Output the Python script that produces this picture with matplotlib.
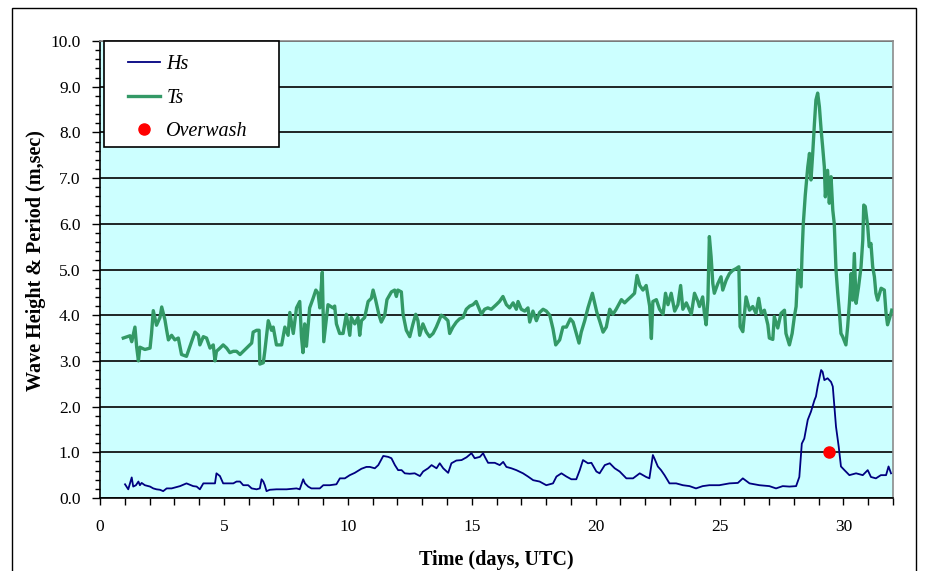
import matplotlib
matplotlib.use("Agg")
import matplotlib.pyplot as plt
from matplotlib.patches import Rectangle
from matplotlib.lines import Line2D
from matplotlib.ticker import MultipleLocator, FormatStrFormatter

plt.rcParams['font.family'] = ['Liberation Serif', 'DejaVu Serif']

# ---------------- data ----------------
# Ts : wave period (sec)
ts_time = [
    0.94, 1.21, 1.28, 1.41, 1.48, 1.55, 1.61, 1.81, 2.02, 2.08, 2.15, 2.28, 2.42, 2.49, 2.62,
    2.69, 2.76, 2.89, 3.02, 3.16, 3.29, 3.49, 3.63, 3.83, 3.97, 4.03, 4.17, 4.30, 4.44, 4.57,
    4.64, 4.70, 4.84, 4.97, 5.11, 5.24, 5.38, 5.51, 5.65, 5.78, 5.91, 6.12, 6.18, 6.32, 6.42,
    6.45, 6.59, 6.65, 6.79, 6.92, 6.99, 7.12, 7.33, 7.46, 7.59, 7.66, 7.80, 7.93, 8.06,
    8.13, 8.19, 8.26, 8.33, 8.46, 8.60, 8.71, 8.80, 8.87, 8.97, 9.03, 9.14, 9.20, 9.40, 9.47,
    9.54, 9.67, 9.81, 9.94, 10.08, 10.14, 10.28, 10.41, 10.48, 10.55, 10.68, 10.82, 10.95, 11.02,
    11.12, 11.26, 11.35, 11.49, 11.58, 11.76, 11.89, 11.96, 12.02, 12.16, 12.23, 12.36, 12.50,
    12.63, 12.74, 12.83, 12.90, 13.03, 13.17, 13.30, 13.44, 13.57, 13.77, 13.91, 14.04, 14.11,
    14.24, 14.38, 14.51, 14.65, 14.78, 14.92, 15.05, 15.18, 15.39, 15.52, 15.65, 15.79, 15.99, 16.12,
    16.26, 16.40, 16.53, 16.67, 16.80, 16.87, 17.00, 17.14, 17.27, 17.34, 17.47, 17.61, 17.74,
    17.88, 18.01, 18.15, 18.28, 18.39, 18.55, 18.68, 18.82, 18.98, 19.09, 19.22, 19.33, 19.42,
    19.56, 19.69, 19.87, 19.96, 20.05, 20.16, 20.30, 20.43, 20.57, 20.70, 20.83, 21.04, 21.17,
    21.30, 21.44, 21.57, 21.67, 21.78, 21.91, 22.04, 22.18, 22.25, 22.31, 22.45, 22.58, 22.72,
    22.82, 22.92, 23.05, 23.19, 23.32, 23.43, 23.52, 23.66, 23.86, 23.99, 24.13,
    24.19, 24.32, 24.39, 24.46, 24.53, 24.59, 24.66, 24.73, 24.79, 24.93, 25.06, 25.13, 25.27,
    25.40, 25.53, 25.67, 25.78, 25.83, 25.94, 26.07, 26.21, 26.34, 26.47, 26.58, 26.68, 26.81,
    26.95, 27.01, 27.15, 27.21, 27.35, 27.48, 27.62, 27.68, 27.82, 27.93, 28.02, 28.09, 28.16,
    28.29, 28.33, 28.38, 28.46, 28.56, 28.63, 28.69, 28.76, 28.83, 28.89, 28.96, 29.03, 29.10,
    29.16, 29.23, 29.27, 29.36, 29.43, 29.50, 29.57, 29.63, 29.70, 29.77, 29.84, 29.90, 29.97,
    30.10, 30.17, 30.24, 30.31, 30.37, 30.44, 30.51, 30.61, 30.71, 30.78, 30.82, 30.88, 30.98,
    31.04, 31.11, 31.18, 31.25, 31.31, 31.38, 31.52, 31.65, 31.72, 31.78, 31.92, 31.95,
]
ts_value = [
    3.50, 3.55, 3.42, 3.74, 3.30, 3.00, 3.30, 3.25, 3.28, 3.60, 4.10, 3.78, 3.95, 4.18, 3.90,
    3.67, 3.46, 3.56, 3.46, 3.50, 3.14, 3.10, 3.32, 3.63, 3.56, 3.35, 3.53, 3.50, 3.28, 3.35,
    3.00, 3.21, 3.28, 3.35, 3.28, 3.18, 3.21, 3.21, 3.14, 3.21, 3.28, 3.39, 3.63, 3.67, 3.67,
    2.93, 2.96, 3.21, 3.88, 3.67, 3.74, 3.35, 3.35, 3.74, 3.56, 4.06, 3.60, 4.16, 4.30,
    3.53, 3.18, 3.81, 3.32, 4.16, 4.37, 4.55, 4.48, 4.16, 4.94, 3.42, 3.95, 4.23, 4.16, 4.20,
    3.81, 3.60, 3.60, 4.02, 3.56, 3.95, 3.81, 3.95, 3.56, 3.88, 3.95, 4.30, 4.37, 4.55,
    4.34, 4.00, 3.85, 4.00, 4.34, 4.51, 4.55, 4.41, 4.55, 4.51, 4.02, 3.67, 3.53,
    3.81, 4.02, 3.88, 3.56, 3.81, 3.63, 3.53, 3.60, 3.74, 4.00, 3.95, 3.88, 3.60,
    3.74, 3.85, 3.92, 3.95, 4.13, 4.20, 4.23, 4.30, 4.02, 4.13, 4.16, 4.13, 4.23, 4.30,
    4.41, 4.23, 4.16, 4.27, 4.13, 4.30, 4.13, 4.09, 4.16, 3.85, 4.09, 3.88, 4.06,
    4.13, 4.09, 4.00, 3.70, 3.35, 3.46, 3.74, 3.74, 3.92, 3.85, 3.60, 3.39, 3.63,
    3.88, 4.16, 4.48, 4.27, 4.06, 3.88, 3.63, 3.74, 4.13, 4.02, 4.13, 4.34, 4.27,
    4.34, 4.41, 4.48, 4.87, 4.65, 4.55, 4.65, 4.20, 3.49, 4.30, 4.34, 4.13, 4.02,
    4.48, 4.23, 4.48, 4.09, 4.23, 4.65, 4.13, 4.27, 4.02, 4.48, 4.30,
    4.19, 4.40, 4.04, 3.79, 4.33, 5.72, 5.28, 4.69, 4.48, 4.69, 4.84, 4.55, 4.77,
    4.91, 4.98, 5.02, 5.06, 3.75, 3.64, 4.40, 4.11, 4.19, 4.04, 4.37, 4.04, 4.11,
    3.79, 3.50, 3.47, 3.97, 3.72, 4.04, 4.11, 3.60, 3.35, 3.60, 3.97, 4.19, 4.99,
    4.62, 5.35, 6.00, 6.63, 7.24, 7.54, 6.96, 7.54, 8.20, 8.71, 8.86, 8.56, 8.05,
    7.69, 7.24, 6.59, 7.17, 6.45, 7.03, 6.30, 6.00, 4.99, 4.48, 4.04, 3.60, 3.53,
    3.35, 3.75, 4.26, 4.91, 4.33, 5.35, 4.26, 4.62, 5.06, 5.64, 6.41, 6.38, 5.94,
    5.50, 5.57, 5.06, 4.84, 4.48, 4.33, 4.59, 4.55, 4.04, 3.79, 4.04, 4.11,
]

# Hs : significant wave height (m)
hs_time = [
    1.01, 1.14, 1.28, 1.34, 1.45, 1.55, 1.61, 1.68, 1.81, 2.02, 2.15, 2.28, 2.42, 2.55, 2.69,
    2.89, 3.02, 3.23, 3.49, 3.76, 3.90, 4.03, 4.17, 4.44, 4.64, 4.70, 4.84, 4.97, 5.38, 5.51,
    5.65, 5.78, 5.98, 6.12, 6.32, 6.45, 6.52, 6.59, 6.65, 6.72, 6.85, 7.12, 7.53, 7.93, 8.06,
    8.20, 8.27, 8.40, 8.53, 8.87, 9.01, 9.27, 9.54, 9.68, 9.88, 10.08, 10.28, 10.55, 10.75,
    10.89, 11.09, 11.23, 11.43, 11.63, 11.76, 11.90, 12.03, 12.17, 12.30, 12.50, 12.70, 12.91,
    13.04, 13.24, 13.38, 13.58, 13.71, 13.85, 14.05, 14.18, 14.38, 14.59, 14.79, 14.99, 15.12,
    15.33, 15.46, 15.53, 15.66, 15.93, 16.13, 16.27, 16.40, 16.60, 16.80, 17.07, 17.27, 17.48,
    17.74, 18.01, 18.28, 18.42, 18.62, 18.82, 19.02, 19.22, 19.36, 19.49, 19.69, 19.83, 20.03,
    20.16, 20.37, 20.57, 20.77, 20.97, 21.24, 21.51, 21.78,
    22.04, 22.17, 22.31, 22.37, 22.51, 22.64, 22.78, 22.98, 23.25, 23.52, 23.79, 24.05, 24.32,
    24.59, 24.99, 25.40, 25.74, 25.94, 26.21, 26.61, 27.01, 27.28, 27.55, 27.82, 28.09, 28.22,
    28.32, 28.42, 28.56, 28.69, 28.83, 28.89, 28.96, 29.10, 29.16, 29.23, 29.36, 29.50, 29.57,
    29.70, 29.81, 29.90, 30.04, 30.24, 30.51, 30.78, 30.98, 31.11, 31.31, 31.51, 31.72, 31.82, 31.92,
]
hs_value = [
    0.30, 0.19, 0.45, 0.25, 0.28, 0.36, 0.28, 0.33, 0.28, 0.25, 0.21, 0.19, 0.18, 0.15, 0.21,
    0.21, 0.23, 0.26, 0.32, 0.26, 0.25, 0.19, 0.32, 0.32, 0.32, 0.54, 0.48, 0.32, 0.32, 0.36,
    0.36, 0.28, 0.28, 0.21, 0.19, 0.21, 0.41, 0.36, 0.28, 0.15, 0.18, 0.19, 0.19, 0.21, 0.19,
    0.41, 0.32, 0.25, 0.21, 0.21, 0.28, 0.28, 0.30, 0.43, 0.43, 0.50, 0.55, 0.64, 0.68,
    0.68, 0.65, 0.72, 0.92, 0.90, 0.87, 0.72, 0.61, 0.61, 0.54, 0.53, 0.54, 0.48,
    0.58, 0.65, 0.72, 0.65, 0.76, 0.65, 0.55, 0.76, 0.82, 0.83, 0.89, 0.98, 0.87,
    0.90, 0.98, 0.90, 0.77, 0.77, 0.72, 0.79, 0.68, 0.65, 0.61, 0.54, 0.47, 0.39,
    0.36, 0.28, 0.32, 0.47, 0.54, 0.47, 0.41, 0.41, 0.61, 0.83, 0.76, 0.77, 0.58,
    0.54, 0.72, 0.76, 0.65, 0.58, 0.43, 0.43, 0.54,
    0.46, 0.43, 0.94, 0.87, 0.69, 0.61, 0.50, 0.32, 0.32, 0.28, 0.26, 0.21, 0.26,
    0.28, 0.28, 0.32, 0.33, 0.43, 0.32, 0.28, 0.26, 0.21, 0.26, 0.25, 0.26, 0.46,
    1.19, 1.30, 1.71, 1.89, 2.14, 2.22, 2.44, 2.80, 2.76, 2.58, 2.62, 2.54, 2.44,
    1.56, 1.12, 0.69, 0.61, 0.50, 0.54, 0.50, 0.61, 0.46, 0.43, 0.50, 0.50, 0.69, 0.54,
]

overwash_time = [29.4]
overwash_value = [1.0]

series_labels = ["Hs", "Ts", "Overwash"]
x_label = "Time (days, UTC)"
y_label = "Wave Height & Period (m,sec)"

# ---------------- figure ----------------
W, H = 925, 571
fig = plt.figure(figsize=(W / 100, H / 100), dpi=100)
fig.patch.set_facecolor('white')

# outer chart-area frame
fig.patches.append(Rectangle((12 / W, -0.05), (916 - 12) / W, 1 - 8 / H + 0.05,
                             transform=fig.transFigure, fill=False,
                             edgecolor='black', linewidth=1.0))

L, R, T, B = 100, 893, 41, 498
ax = fig.add_axes([L / W, 1 - B / H, (R - L) / W, (B - T) / H])
ax.set_facecolor('#CCFFFF')

ax.plot(hs_time, hs_value, color='#000080', lw=1.3, zorder=3)
ax.plot(ts_time, ts_value, color='#339966', lw=2.4, zorder=3)
ax.plot(overwash_time, overwash_value, 'o', color='red', ms=8, zorder=4)

ax.set_xlim(0, 32)
ax.set_ylim(0, 10)
ax.xaxis.set_major_locator(MultipleLocator(5))
ax.xaxis.set_minor_locator(MultipleLocator(1))
ax.yaxis.set_major_locator(MultipleLocator(1))
ax.yaxis.set_minor_locator(MultipleLocator(0.2))
ax.yaxis.set_major_formatter(FormatStrFormatter('%.1f'))

ax.tick_params(axis='x', which='both', direction='out', length=5, width=1, pad=10,
               labelsize=12.5, colors='black')
ax.tick_params(axis='y', which='major', direction='out', length=6, width=1, pad=8,
               labelsize=12.5)
ax.tick_params(axis='y', which='minor', direction='out', length=3.5, width=1)

ax.set_axisbelow(True)
ax.yaxis.grid(True, which='major', color='black', lw=1.2)

for s in ('left', 'bottom'):
    ax.spines[s].set_color('black')
    ax.spines[s].set_linewidth(1.2)
for s in ('top', 'right'):
    ax.spines[s].set_color('#8c8c8c')
    ax.spines[s].set_linewidth(1.2)

ax.set_xlabel(x_label, fontsize=14.5, fontweight='bold')
ax.set_ylabel(y_label, fontsize=14.5, fontweight='bold')
ax.xaxis.set_label_coords(0.5, (B - 550) / (B - T))
ax.yaxis.set_label_coords((46 - L) / (R - L), 0.52)

# legend: white box with black frame
lx0, lx1, ly0, ly1 = 104, 279, 41, 147
ax.add_patch(Rectangle(((lx0 - L) / (R - L), (B - ly1) / (B - T)),
                       (lx1 - lx0) / (R - L), (ly1 - ly0) / (B - T),
                       transform=ax.transAxes, facecolor='white', edgecolor='black',
                       lw=1.2, zorder=5, clip_on=False))
handles = [Line2D([], [], color='#000080', lw=1.3),
           Line2D([], [], color='#339966', lw=2.4),
           Line2D([], [], ls='none', marker='o', color='red', ms=8)]
fs = 14.5
fs_px = fs * 100 / 72
bp = 0.4
leg = ax.legend(handles, series_labels, loc='upper left', frameon=False,
                bbox_to_anchor=((128 - bp * fs_px - L) / (R - L), (B - (ly0 + 14 - bp * fs_px)) / (B - T)),
                borderaxespad=0, borderpad=bp, handlelength=1.6, handletextpad=0.3,
                labelspacing=0.72, prop={'family': 'Liberation Serif', 'style': 'italic', 'size': fs})
leg.set_zorder(6)

fig.savefig('out.png', dpi=100, facecolor='white')
